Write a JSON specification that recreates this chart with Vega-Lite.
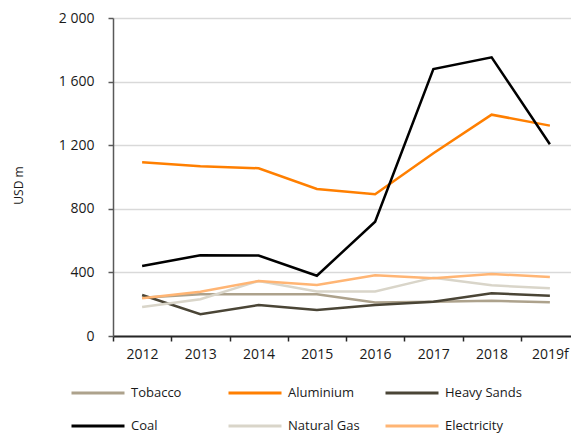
{
  "$schema": "https://vega.github.io/schema/vega-lite/v6.json",
  "width": 458,
  "height": 318,
  "autosize": "none",
  "padding": {"left": 113, "top": 18, "right": 0, "bottom": 99},
  "background": "white",
  "config": {"font": "Open Sans", "view": {"stroke": null}},
  "data": {
    "values": [
      {"year": "2012", "series": "Tobacco", "value": 240},
      {"year": "2013", "series": "Tobacco", "value": 262},
      {"year": "2014", "series": "Tobacco", "value": 262},
      {"year": "2015", "series": "Tobacco", "value": 262},
      {"year": "2016", "series": "Tobacco", "value": 210},
      {"year": "2017", "series": "Tobacco", "value": 216},
      {"year": "2018", "series": "Tobacco", "value": 222},
      {"year": "2019f", "series": "Tobacco", "value": 212},
      {"year": "2012", "series": "Aluminium", "value": 1092},
      {"year": "2013", "series": "Aluminium", "value": 1067},
      {"year": "2014", "series": "Aluminium", "value": 1055},
      {"year": "2015", "series": "Aluminium", "value": 925},
      {"year": "2016", "series": "Aluminium", "value": 891},
      {"year": "2017", "series": "Aluminium", "value": 1149},
      {"year": "2018", "series": "Aluminium", "value": 1392},
      {"year": "2019f", "series": "Aluminium", "value": 1323},
      {"year": "2012", "series": "Heavy Sands", "value": 258},
      {"year": "2013", "series": "Heavy Sands", "value": 137},
      {"year": "2014", "series": "Heavy Sands", "value": 195},
      {"year": "2015", "series": "Heavy Sands", "value": 164},
      {"year": "2016", "series": "Heavy Sands", "value": 195},
      {"year": "2017", "series": "Heavy Sands", "value": 216},
      {"year": "2018", "series": "Heavy Sands", "value": 269},
      {"year": "2019f", "series": "Heavy Sands", "value": 253},
      {"year": "2012", "series": "Coal", "value": 440},
      {"year": "2013", "series": "Coal", "value": 508},
      {"year": "2014", "series": "Coal", "value": 506},
      {"year": "2015", "series": "Coal", "value": 379},
      {"year": "2016", "series": "Coal", "value": 719},
      {"year": "2017", "series": "Coal", "value": 1679},
      {"year": "2018", "series": "Coal", "value": 1753},
      {"year": "2019f", "series": "Coal", "value": 1206},
      {"year": "2012", "series": "Natural Gas", "value": 182},
      {"year": "2013", "series": "Natural Gas", "value": 231},
      {"year": "2014", "series": "Natural Gas", "value": 346},
      {"year": "2015", "series": "Natural Gas", "value": 280},
      {"year": "2016", "series": "Natural Gas", "value": 280},
      {"year": "2017", "series": "Natural Gas", "value": 367},
      {"year": "2018", "series": "Natural Gas", "value": 319},
      {"year": "2019f", "series": "Natural Gas", "value": 300},
      {"year": "2012", "series": "Electricity", "value": 237},
      {"year": "2013", "series": "Electricity", "value": 279},
      {"year": "2014", "series": "Electricity", "value": 346},
      {"year": "2015", "series": "Electricity", "value": 321},
      {"year": "2016", "series": "Electricity", "value": 382},
      {"year": "2017", "series": "Electricity", "value": 363},
      {"year": "2018", "series": "Electricity", "value": 390},
      {"year": "2019f", "series": "Electricity", "value": 371}
    ]
  },
  "mark": {"type": "line", "strokeWidth": 2.5, "clip": false},
  "encoding": {
    "x": {
      "field": "year",
      "type": "ordinal",
      "bandPosition": 0.5,
      "scale": {"type": "band", "paddingInner": 0, "paddingOuter": 0, "range": [0, 466]},
      "axis": {
        "title": null,
        "labelAngle": 0,
        "tickBand": "extent",
        "labelFontSize": 14,
        "labelColor": "#1a1a1a",
        "labelPadding": 6,
        "tickSize": 5,
        "tickColor": "#262626",
        "tickWidth": 1.5,
        "domainColor": "#262626",
        "domainWidth": 2,
        "grid": false
      }
    },
    "y": {
      "field": "value",
      "type": "quantitative",
      "scale": {"domain": [0, 2000], "nice": false},
      "axis": {
        "title": "USD m",
        "titleFontSize": 12,
        "titleFontWeight": "normal",
        "titleColor": "#1a1a1a",
        "titleX": -95,
        "titleY": 167,
        "titleBaseline": "middle",
        "titleAngle": -90,
        "values": [0, 400, 800, 1200, 1600, 2000],
        "labelExpr": "replace(format(datum.value, ','), ',', ' ')",
        "labelFontSize": 14,
        "labelColor": "#1a1a1a",
        "labelPadding": 14,
        "tickSize": 5,
        "tickColor": "#595959",
        "tickWidth": 1.5,
        "domainColor": "#595959",
        "domainWidth": 1.5,
        "gridColor": "#d9d9d9",
        "gridWidth": 1.5
      }
    },
    "color": {
      "field": "series",
      "type": "nominal",
      "sort": ["Tobacco", "Aluminium", "Heavy Sands", "Coal", "Natural Gas", "Electricity"],
      "scale": {
        "domain": ["Tobacco", "Aluminium", "Heavy Sands", "Coal", "Natural Gas", "Electricity"],
        "range": ["#ada28c", "#ff7f00", "#4a4536", "#000000", "#d9d5c9", "#ffb574"]
      },
      "legend": {
        "title": null,
        "orient": "none",
        "legendX": -43,
        "legendY": 367,
        "direction": "horizontal",
        "columns": 3,
        "gridAlign": "all",
        "columnPadding": 19,
        "rowPadding": 17,
        "clipHeight": 16,
        "symbolType": "stroke",
        "symbolSize": 2809,
        "symbolStrokeWidth": 3,
        "labelFontSize": 13,
        "labelColor": "#1a1a1a",
        "labelOffset": 5
      }
    },
    "order": {"field": "series", "sort": "ascending"}
  }
}
